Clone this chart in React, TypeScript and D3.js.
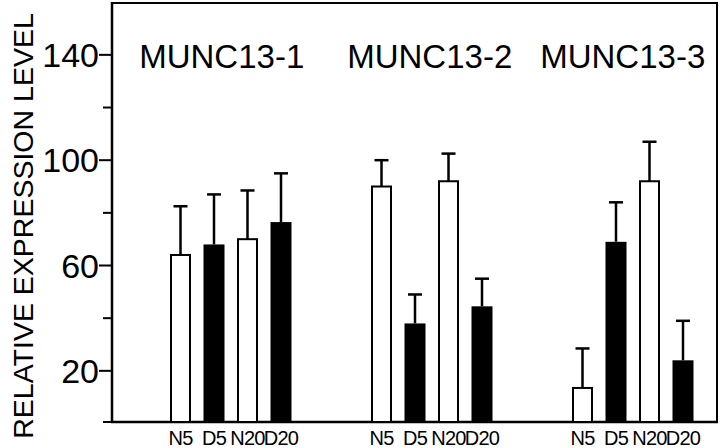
import React from "react";
import * as d3 from "d3";

const groups = ["MUNC13-1", "MUNC13-2", "MUNC13-3"];
const conditions = ["N5", "D5", "N20", "D20"];
const filled = [false, true, false, true];
const means1 = [64, 68, 70, 76.5];
const means2 = [90, 38, 92, 44.5];
const means3 = [13.5, 69, 92, 24];
const errs1 = [18.5, 19, 18.5, 18.5];
const errs2 = [10, 11, 10.5, 10.5];
const errs3 = [15, 15, 15, 15];
const majorTicks = [20, 60, 100, 140];
const minorTicks = [0, 40, 80, 120];
const yTitle = "RELATIVE EXPRESSION LEVEL";

const allMeans = [means1, means2, means3];
const allErrs = [errs1, errs2, errs3];

const W = 720;
const H = 448;
const FONT = "'Liberation Sans', Arial, Helvetica, sans-serif";

export default function App() {
  const y = d3.scaleLinear().domain([0, 160]).range([423.5, 2.2]);
  const x = d3.scaleLinear().domain([0, 15]).range([180.5, 683]);
  const barW = 21;
  const capW = 14;
  const axisX = 112;
  const axisY = 422;
  const rightX = 717;
  const topY = 3;
  const titleOffsets = [-9, -2, -10];

  const bars = [];
  allMeans.forEach((ms, g) => {
    ms.forEach((m, i) => {
      bars.push({ g, i, m, e: allErrs[g][i], slot: g * 6 + i });
    });
  });

  return (
    <svg
      width={W}
      height={H}
      style={{ position: "absolute", left: 0, top: 0, background: "#fff" }}
      fontFamily={FONT}
    >
      <rect x={0} y={0} width={W} height={H} fill="#fff" />
      {/* frame */}
      <line x1={axisX} x2={rightX + 1} y1={topY} y2={topY} stroke="#000" strokeWidth={2} />
      <line x1={rightX} x2={rightX} y1={topY} y2={axisY} stroke="#000" strokeWidth={2} />
      <line x1={axisX} x2={axisX} y1={topY - 1} y2={axisY + 1} stroke="#000" strokeWidth={2.5} />
      <line x1={axisX - 1} x2={rightX + 1} y1={axisY} y2={axisY} stroke="#000" strokeWidth={2.5} />

      {/* ticks */}
      {majorTicks.map((t) => (
        <g key={"M" + t}>
          <line x1={axisX - 13} x2={axisX} y1={y(t)} y2={y(t)} stroke="#000" strokeWidth={2} />
          <text
            x={axisX - 13}
            y={y(t)}
            dy="0.36em"
            textAnchor="end"
            fontSize={34}
            fill="#000"
          >
            {t}
          </text>
        </g>
      ))}
      {minorTicks.map((t) => (
        <line
          key={"m" + t}
          x1={axisX - 9}
          x2={axisX}
          y1={t === 0 ? axisY : y(t)}
          y2={t === 0 ? axisY : y(t)}
          stroke="#000"
          strokeWidth={2}
        />
      ))}

      {/* y title */}
      <text
        transform={`translate(33, 226) rotate(-90)`}
        textAnchor="middle"
        fontSize={28.5}
        fill="#000"
      >
        {yTitle}
      </text>

      {/* group titles */}
      {groups.map((gname, g) => (
        <text
          key={gname}
          x={x(g * 6 + 1.5) + titleOffsets[g]}
          y={68}
          textAnchor="middle"
          fontSize={33}
          fill="#000"
        >
          {gname}
        </text>
      ))}

      {/* bars */}
      {bars.map((b) => {
        const cx = x(b.slot);
        const top = y(b.m);
        const cap = y(b.m + b.e);
        return (
          <g key={b.g + "-" + b.i}>
            <line x1={cx} x2={cx} y1={top} y2={cap} stroke="#000" strokeWidth={2.5} />
            <line x1={cx - capW / 2} x2={cx + capW / 2} y1={cap} y2={cap} stroke="#000" strokeWidth={2.5} />
            {filled[b.i] ? (
              <rect x={cx - barW / 2} y={top} width={barW} height={axisY - top} fill="#000" />
            ) : (
              <rect
                x={cx - barW / 2 + 1}
                y={top}
                width={barW - 2}
                height={axisY - top}
                fill="#fff"
                stroke="#000"
                strokeWidth={2}
              />
            )}
          </g>
        );
      })}

      {/* category labels */}
      {bars.map((b) => (
        <text
          key={"l" + b.g + "-" + b.i}
          x={x(b.slot)}
          y={445}
          textAnchor="middle"
          fontSize={20}
          letterSpacing={-0.8}
          fill="#000"
        >
          {conditions[b.i]}
        </text>
      ))}
    </svg>
  );
}
